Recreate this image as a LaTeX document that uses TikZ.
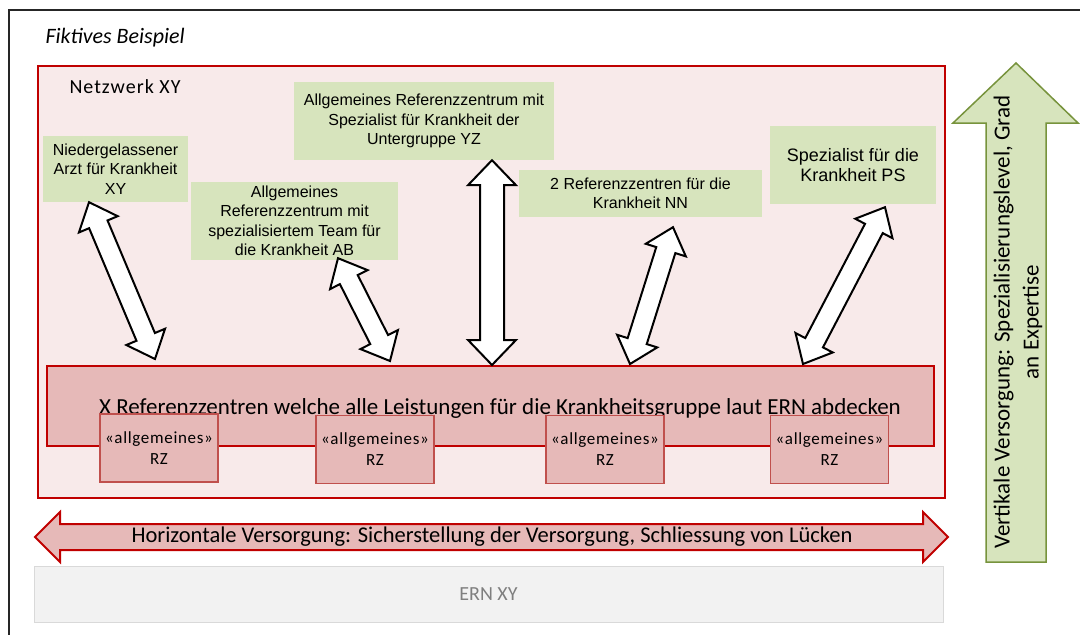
\documentclass[tikz,border=0pt]{standalone}
\usepackage{fontspec}
\setmainfont{Carlito}
\newfontfamily\arialfont{Liberation Sans}
\usetikzlibrary{calc}
\definecolor{netzrot}{RGB}{192,0,0}
\definecolor{netzfill}{RGB}{248,234,234}
\definecolor{rosa}{RGB}{230,185,184}
\definecolor{rzrand}{RGB}{192,80,77}
\definecolor{hellgruen}{RGB}{215,228,189}
\definecolor{olivgruen}{RGB}{119,147,60}
\definecolor{ernfill}{RGB}{242,242,242}
\definecolor{ernrand}{RGB}{217,217,217}
\definecolor{erntext}{RGB}{127,127,127}

\newcommand{\doppelpfeil}[6][]{\draw[#1] let \p1=($(#3)-(#2)$), \n1={atan2(\y1,\x1)} in
  (#2) -- ($(#2)+(\n1:#6)+(\n1+90:#5)$) -- ($(#2)+(\n1:#6)+(\n1+90:#4)$)
  -- ($(#3)+(\n1:-#6)+(\n1+90:#4)$) -- ($(#3)+(\n1:-#6)+(\n1+90:#5)$)
  -- (#3) -- ($(#3)+(\n1:-#6)+(\n1-90:#5)$) -- ($(#3)+(\n1:-#6)+(\n1-90:#4)$)
  -- ($(#2)+(\n1:#6)+(\n1-90:#4)$) -- ($(#2)+(\n1:#6)+(\n1-90:#5)$) -- cycle;}

\begin{document}
\begin{tikzpicture}[x=1pt,y=-1pt,
  gruenbox/.style={fill=hellgruen, align=center, inner sep=0pt, font=\arialfont\fontsize{16}{19.5}\selectfont},
  rzbox/.style={draw=rzrand, line width=1.5pt, fill=rosa, minimum width=118, minimum height=68, inner sep=0pt, align=center, font=\fontsize{17}{21}\selectfont\addfontfeature{LetterSpace=4}},
  verbindung/.style={draw=black, line width=2pt, fill=white}]
\useasboundingbox (0,0) rectangle (1080,635);
\draw[line width=2pt, black!85] (9,635) -- (9,10) -- (1080,10);
\node[anchor=west, font=\itshape\fontsize{22}{26}\selectfont] (titel) at (42,38) {Fiktives Beispiel};

\node[draw=netzrot, line width=2pt, fill=netzfill, minimum width=907, minimum height=432, anchor=north west] (netz) at (37,65) {};
\node[anchor=west, font=\fontsize{20}{24}\selectfont\addfontfeature{LetterSpace=5}] (netzname) at (66,87) {Netzwerk XY};

\node[gruenbox, minimum width=145, minimum height=66] (arzt) at (115.5,169) {Niedergelassener\\Arzt für Krankheit\\XY};
\node[gruenbox, minimum width=207, minimum height=78] (team) at (294.5,221) {Allgemeines\\Referenzzentrum mit\\spezialisiertem Team für\\die Krankheit AB};
\node[gruenbox, minimum width=260, minimum height=78] (untergruppe) at (424,121) {Allgemeines Referenzzentrum mit\\Spezialist für Krankheit der\\Untergruppe YZ};
\node[gruenbox, minimum width=243, minimum height=47] (nn) at (640.5,193.5) {2 Referenzzentren für die\\Krankheit NN};
\node[gruenbox, minimum width=166, minimum height=78, font=\arialfont\fontsize{18}{20}\selectfont] (ps) at (853,165) {Spezialist für die\\Krankheit PS};

\node[draw=netzrot, line width=2pt, fill=rosa, minimum width=887, minimum height=80] (leiste) at (490.5,406) {};
\node[font=\fontsize{23}{26}\selectfont] (leistentext) at (500,408) {X Referenzzentren welche alle Leistungen für die Krankheitsgruppe laut ERN abdecken};

\coordinate (arzt-o) at ([xshift=-26.5]arzt.south);
\coordinate (arzt-u) at ([xshift=-335.5,yshift=6]leiste.north);
\coordinate (team-o) at ([xshift=43.5,yshift=2]team.south);
\coordinate (team-u) at ([xshift=-100.5,yshift=4]leiste.north);
\coordinate (untergruppe-o) at ([xshift=68]untergruppe.south);
\coordinate (untergruppe-u) at ([xshift=1.5]leiste.north);
\coordinate (nn-o) at ([xshift=32.5,yshift=-10]nn.south);
\coordinate (nn-u) at ([xshift=139.5,yshift=1]leiste.north);
\coordinate (ps-o) at ([xshift=32,yshift=-3]ps.south);
\coordinate (ps-u) at ([xshift=312.5,yshift=1]leiste.north);
\doppelpfeil[verbindung]{arzt-o}{arzt-u}{10pt}{21pt}{24pt}
\doppelpfeil[verbindung]{team-o}{team-u}{10pt}{21pt}{24pt}
\doppelpfeil[verbindung]{untergruppe-o}{untergruppe-u}{12pt}{24pt}{25pt}
\doppelpfeil[verbindung]{nn-o}{nn-u}{10pt}{21pt}{24pt}
\doppelpfeil[verbindung]{ps-o}{ps-u}{10pt}{21pt}{24pt}

\node[rzbox] (rz1) at (159,448) {«allgemeines»\\RZ};
\node[rzbox] (rz2) at (375,449.5) {«allgemeines»\\RZ};
\node[rzbox] (rz3) at (605,449.5) {«allgemeines»\\RZ};
\node[rzbox] (rz4) at (829.5,449.5) {«allgemeines»\\RZ};

\coordinate (horizontal-l) at (35,537);
\coordinate (horizontal-r) at (948,537);
\doppelpfeil[draw=netzrot, line width=2pt, fill=rosa]{horizontal-l}{horizontal-r}{13pt}{25pt}{25pt}
\node[font=\fontsize{22.5}{26}\selectfont] (horizontal) at (492,537) {Horizontale Versorgung: Sicherstellung der Versorgung, Schliessung von Lücken};

\node[draw=ernrand, line width=1pt, fill=ernfill, minimum width=909, minimum height=56, text=erntext, font=\fontsize{20}{24}\selectfont] (ern) at (488.5,594) {ERN XY};

\draw[draw=olivgruen, line width=1.5pt, fill=hellgruen] (1016,63) -- (1078,123) -- (1046,123) -- (1046,562) -- (986,562) -- (986,123) -- (953,123) -- cycle;
\node[rotate=90, align=center, font=\fontsize{23}{29}\selectfont] (vertikal) at (1018,322) {Vertikale Versorgung: Spezialisierungslevel, Grad\\an Expertise};
\end{tikzpicture}
\end{document}
